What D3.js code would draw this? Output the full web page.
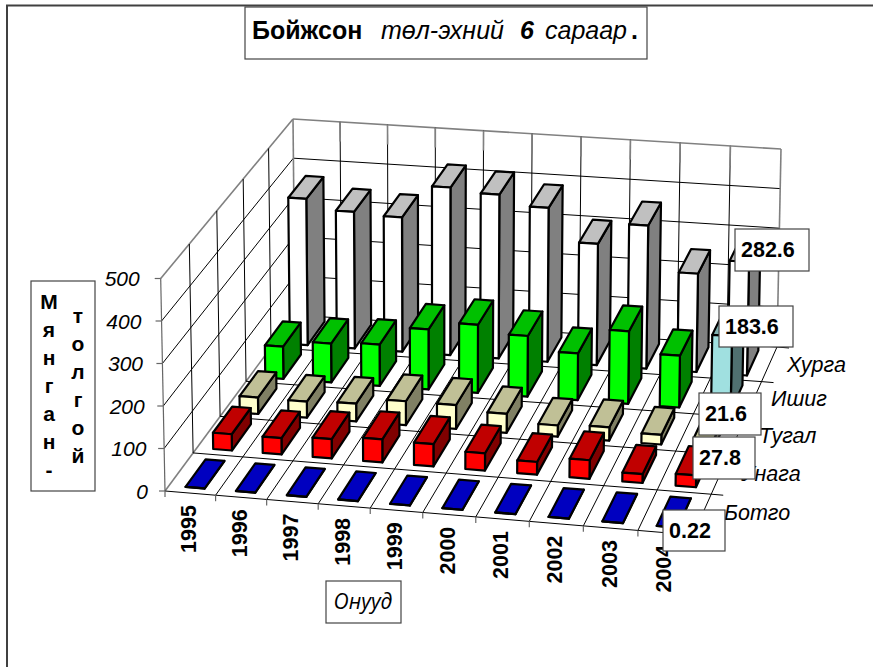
<!DOCTYPE html>
<html>
<head>
<meta charset="utf-8">
<script src="https://cdn.jsdelivr.net/npm/d3@7"></script>
<style type="text/css">
    html, body { margin: 0; padding: 0; background: #fff; }
    svg { display: block; }
    text { font-family: "Liberation Sans", Arial, sans-serif; fill: #000; }
    .bar { stroke: #000; stroke-width: 2.2px; stroke-linejoin: round; }
    .grid { stroke: #000; stroke-width: 1px; fill: none; }
    .edge { stroke: #808080; stroke-width: 1.6px; fill: none; }
    .tick { stroke: #666; stroke-width: 1.2px; fill: none; }
    .box { fill: #fff; stroke: #444; stroke-width: 1.2px; }
</style>
</head>
<body>
<div id="chart"></div>
<script type="text/javascript">
var years = ["1995", "1996", "1997", "1998", "1999", "2000", "2001", "2002", "2003", "2004"];
// front to back, as on the depth axis
var seriesNames = ["Ботго", "Унага", "Тугал", "Ишиг", "Хурга"];
var botgo = [0.3, 0.3, 0.3, 0.3, 0.3, 0.3, 0.3, 0.2, 0.3, 0.22];
var unaga = [39, 39, 46, 55, 53, 41, 30, 44, 21, 27.8];
var tugal = [40, 39, 43, 58, 58, 46, 27, 32, 23, 21.6];
var ishig = [80, 96, 102, 148, 168, 149, 115, 178, 127, 183.6];
var khurga = [368, 343, 337, 420, 410, 385, 303, 357, 245, 282.6];
var valueTicks = [0, 100, 200, 300, 400, 500];
var leftTitleA = ["М", "я", "н", "г", "а", "н", "-"];
var leftTitleB = ["т", "о", "л", "г", "о", "й"];

var allSeries = [botgo, unaga, tugal, ishig, khurga];

var width = 873, height = 667;

// colours: front, top, side
var seriesColors = [
    ["#0000c0", "#0000c0", "#000080"],
    ["#ff0000", "#c00000", "#800000"],
    ["#ffffcc", "#c0c096", "#808064"],
    ["#00ff00", "#00c000", "#008000"],
    ["#ffffff", "#c0c0c0", "#808080"]
];
var pickedColors = ["#a0e0e0", "#80b0b0", "#507070"]; // Ишиг 2004

var svg = d3.select("#chart").append("svg")
    .attr("width", width)
    .attr("height", height);

// Map the unit square onto a quad, corners in order (0,0) (1,0) (1,1) (0,1)
function quadMap(q) {
    var dx1 = q[1][0] - q[2][0], dx2 = q[3][0] - q[2][0], sx = q[0][0] - q[1][0] + q[2][0] - q[3][0];
    var dy1 = q[1][1] - q[2][1], dy2 = q[3][1] - q[2][1], sy = q[0][1] - q[1][1] + q[2][1] - q[3][1];
    var det = dx1 * dy2 - dx2 * dy1;
    var g = (sx * dy2 - dx2 * sy) / det;
    var h = (dx1 * sy - sx * dy1) / det;
    var a = q[1][0] - q[0][0] + g * q[1][0], b = q[3][0] - q[0][0] + h * q[3][0];
    var d = q[1][1] - q[0][1] + g * q[1][1], e = q[3][1] - q[0][1] + h * q[3][1];
    return function(u, v) {
        var w = g * u + h * v + 1;
        return [(a * u + b * v + q[0][0]) / w, (d * u + e * v + q[0][1]) / w];
    };
}

var floorMap = quadMap([[165, 491], [693, 535], [777, 347], [295, 315]]);
var ceilMap = quadMap([[160.7, 278.5], [696, 319], [781, 149], [293, 119]]);

// Scales for the 3 chart axes, all on 0..1
var xBand = d3.scaleBand().domain(years).range([0, 1]).paddingInner(0.62).paddingOuter(0.33);
var zBand = d3.scaleBand().domain(seriesNames).range([0, 1]).paddingInner(0.28).paddingOuter(0.14);
var xCell = d3.scaleLinear().domain([0, years.length]).range([0, 1]);
var zCell = d3.scaleLinear().domain([0, seriesNames.length]).range([0, 1]);
var yScale = d3.scaleLinear().domain([0, 500]).range([0, 1]);

function project(u, v, value) {
    var p0 = floorMap(u, v), p1 = ceilMap(u, v), t = yScale(value);
    return [p0[0] + (p1[0] - p0[0]) * t, p0[1] + (p1[1] - p0[1]) * t];
}

var line = d3.line();

function drawLine(g, a, b, cls) {
    g.append("path").attr("class", cls).attr("d", line([a, b]));
}

/********************* walls and floor **********************************/
var walls = svg.append("g");

// back wall
valueTicks.forEach(function(t) {
    drawLine(walls, project(0, 1, t), project(1, 1, t), t === 500 ? "edge" : "grid");
});
d3.range(1, years.length).forEach(function(i) {
    drawLine(walls, project(xCell(i), 1, 0), project(xCell(i), 1, 500), "grid");
    drawLine(walls, project(xCell(i), 1, 450), project(xCell(i), 1, 500), "edge");
});
// left wall
valueTicks.forEach(function(t) {
    drawLine(walls, project(0, 0, t), project(0, 1, t), t === 500 || t === 0 ? "edge" : "grid");
});
d3.range(1, seriesNames.length).forEach(function(i) {
    drawLine(walls, project(0, zCell(i), 0), project(0, zCell(i), 500), "grid");
});
// floor
d3.range(1, years.length + 1).forEach(function(i) {
    drawLine(walls, project(xCell(i), 0, 0), project(xCell(i), 1, 0), "grid");
});
d3.range(0, seriesNames.length).forEach(function(i) {
    drawLine(walls, project(0, zCell(i), 0), project(1, zCell(i), 0), "grid");
});
drawLine(walls, project(0, 1, 0), project(0, 1, 500), "edge");
drawLine(walls, project(1, 1, 0), project(1, 1, 500), "edge");
drawLine(walls, project(0, 0, 0), project(0, 0, 500), "tick");

// ticks outside the box
valueTicks.forEach(function(t) {
    var p = project(0, 0, t);
    drawLine(walls, p, [p[0] - 6, p[1]], "tick");
});
d3.range(0, years.length + 1).forEach(function(i) {
    var p = project(xCell(i), 0, 0);
    drawLine(walls, p, [p[0], p[1] + 6], "tick");
});
d3.range(0, seriesNames.length + 1).forEach(function(i) {
    var p = project(1, zCell(i), 0);
    drawLine(walls, p, [p[0] + 12, p[1] + 1], "grid");
});

/********************* bars **********************************/
var bars = svg.append("g");

// back series first, so the nearer ones cover them
d3.range(seriesNames.length - 1, -1, -1).forEach(function(s) {
    allSeries[s].forEach(function(val, i) {
        var u0 = xBand(years[i]), u1 = u0 + xBand.bandwidth();
        var v0 = zBand(seriesNames[s]), v1 = v0 + zBand.bandwidth();
        var c = (s === 3 && i === 9) ? pickedColors : seriesColors[s];
        var faces = [
            [[u1, v0, 0], [u1, v1, 0], [u1, v1, val], [u1, v0, val], c[2]],
            [[u0, v0, val], [u1, v0, val], [u1, v1, val], [u0, v1, val], c[1]],
            [[u0, v0, 0], [u1, v0, 0], [u1, v0, val], [u0, v0, val], c[0]]
        ];
        faces.forEach(function(f) {
            bars.append("path")
                .attr("class", "bar")
                .attr("fill", f[4])
                .attr("d", line(f.slice(0, 4).map(function(k) { return project(k[0], k[1], k[2]); })) + "Z");
        });
    });
});

/********************* axis labels **********************************/
var labels = svg.append("g");

valueTicks.forEach(function(t) {
    var p = project(0, 0, t);
    labels.append("text")
        .attr("x", p[0] - 21 + (500 - t) * 0.008)
        .attr("y", p[1] + 7.5)
        .attr("text-anchor", "end")
        .attr("font-size", 21)
        .attr("font-style", "italic")
        .text(t);
});

years.forEach(function(y, i) {
    var p = project(xCell(i + 0.5), 0, 0);
    labels.append("text")
        .attr("transform", "translate(" + (p[0] + 6) + "," + (p[1] + 12) + ") rotate(-90)")
        .attr("text-anchor", "end")
        .attr("font-size", 21.5)
        .attr("font-weight", "bold")
        .text(y);
});

var seriesLabelAt = [[724, 520], [741, 481], [759, 443], [771, 406], [787, 372]];
seriesNames.forEach(function(n, i) {
    labels.append("text")
        .attr("x", seriesLabelAt[i][0])
        .attr("y", seriesLabelAt[i][1])
        .attr("font-size", 21.5)
        .attr("font-style", "italic")
        .text(n);
});

/********************* boxes **********************************/
var boxes = svg.append("g");

function box(x0, y0, x1, y1) {
    boxes.append("rect")
        .attr("class", "box")
        .attr("x", x0).attr("y", y0)
        .attr("width", x1 - x0).attr("height", y1 - y0);
}

// outer chart frame: only left and top edges show
boxes.append("path")
    .attr("d", "M7,667V5.5H873")
    .attr("fill", "none")
    .attr("stroke", "#404040")
    .attr("stroke-width", 2);

// value callouts for 2004, back to front
var calloutBoxes = [[735, 229, 809, 271], [719, 306, 793, 347], [699, 393, 761, 435], [693, 437, 755, 479], [663, 510, 725, 551]];
var calloutTexts = [khurga[9], ishig[9], tugal[9], unaga[9], botgo[9]];
calloutBoxes.forEach(function(b, i) {
    box(b[0], b[1], b[2], b[3]);
    boxes.append("text")
        .attr("x", b[0] + 6)
        .attr("y", b[1] + 28)
        .attr("font-size", 21.5)
        .attr("font-weight", "bold")
        .text(calloutTexts[i]);
});

// title
box(245, 7, 647, 59);
var titleParts = [
    ["Бойжсон", 252, "bold", "normal"],
    ["төл-эхний", 381, "normal", "italic"],
    ["6", 520, "bold", "italic"],
    ["сараар", 545, "normal", "italic"],
    [".", 631, "bold", "normal"]
];
titleParts.forEach(function(d) {
    boxes.append("text")
        .attr("x", d[1]).attr("y", 39)
        .attr("font-size", 25)
        .attr("font-weight", d[2])
        .attr("font-style", d[3])
        .text(d[0]);
});

// x axis title
box(326, 581, 401, 623);
boxes.append("text")
    .attr("x", 363).attr("y", 609)
    .attr("text-anchor", "middle")
    .attr("font-size", 21)
    .attr("font-style", "italic")
    .style("font-family", "'Open Sans', sans-serif")
    .text("Онууд");

// y axis title, two columns of letters
box(31, 281, 95, 491);
leftTitleA.forEach(function(l, i) {
    boxes.append("text")
        .attr("x", 49).attr("y", 309 + i * 28)
        .attr("text-anchor", "middle")
        .attr("font-size", 21)
        .attr("font-weight", "bold")
        .text(l);
});
leftTitleB.forEach(function(l, i) {
    boxes.append("text")
        .attr("x", 78).attr("y", 323 + i * 28)
        .attr("text-anchor", "middle")
        .attr("font-size", 21)
        .attr("font-weight", "bold")
        .text(l);
});
</script>
</body>
</html>
